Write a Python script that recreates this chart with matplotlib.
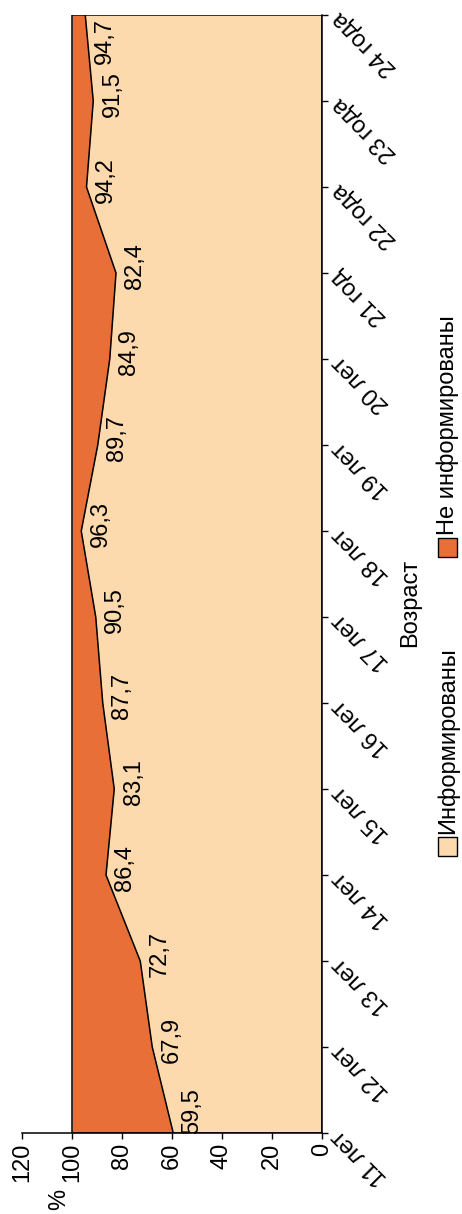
import matplotlib
matplotlib.use("Agg")
import matplotlib.pyplot as plt
from matplotlib.patches import Rectangle

# Данные ----------------------------->>>>>
ages = ["11 лет", "12 лет", "13 лет", "14 лет", "15 лет", "16 лет", "17 лет",
        "18 лет", "19 лет", "20 лет", "21 год", "22 года", "23 года", "24 года"]
informed = [59.5, 67.9, 72.7, 86.4, 83.1, 87.7, 90.5, 96.3, 89.7, 84.9, 82.4, 94.2, 91.5, 94.7]
total = 100
value_ticks = [0, 20, 40, 60, 80, 100, 120]

PEACH = "#FDDAAD"
ORANGE = "#E86F37"
FS = 17

plt.rcParams['font.family'] = ['Liberation Sans', 'DejaVu Sans']

W, H = 462, 1214
fig = plt.figure(figsize=(W / 100, H / 100), dpi=100)
ax = fig.add_axes([22 / W, 81 / H, 300 / W, 1118 / H])

pos = list(range(len(ages)))

# Области (график повернут на 90 градусов)
ax.fill_betweenx(pos, 0, informed, color=PEACH, lw=0)
ax.fill_betweenx(pos, informed, total, color=ORANGE, lw=0)
ax.plot(informed, pos, color="black", lw=1.1)
ax.add_patch(Rectangle((0, 0), total, len(ages) - 1, fill=False, ec="black", lw=1.1))

ax.set_xlim(120, 0)
ax.set_ylim(0, len(ages) - 1)

for s in ["top", "left"]:
    ax.spines[s].set_visible(False)
ax.spines["bottom"].set_linewidth(1.1)
ax.spines["right"].set_linewidth(1.1)

# Ось значений (снизу)
ax.set_xticks(value_ticks)
ax.set_xticklabels([str(v) for v in value_ticks], rotation=90, fontsize=FS)
ax.tick_params(axis="x", direction="out", length=4, width=1, pad=3)

# Ось категорий (справа)
ax.yaxis.tick_right()
ax.set_yticks(pos)
ax.set_yticklabels(ages, fontsize=FS)
ax.tick_params(axis="y", direction="out", length=4, width=1, pad=6)
plt.setp(ax.get_yticklabels(), rotation=135, ha="right", va="center", rotation_mode="anchor")

# Подписи данных
last = len(informed) - 1
for i, v in enumerate(informed):
    dy = 16 if i == 0 else (-19 if i == last else 5)
    ax.annotate(f"{v:.1f}".replace(".", ","), xy=(v, i), xytext=(6, dy),
                textcoords="offset points", rotation=90, ha="center", va="top",
                rotation_mode="anchor", fontsize=FS)

# Подписи осей
fig.text(59 / W, 1 - 1199 / H, "%", rotation=90, ha="center", va="center", fontsize=FS)
fig.text(410 / W, 1 - 603 / H, "Возраст", rotation=90, ha="center", va="center", fontsize=FS)

# Легенда
legend = [("Информированы", PEACH, 856), ("Не информированы", ORANGE, 557)]
for label, col, ybot in legend:
    fig.add_artist(Rectangle((438 / W, 1 - ybot / H), 19 / W, 19 / H,
                             transform=fig.transFigure, fc=col, ec="black", lw=1))
    fig.text(448 / W, 1 - (ybot - 22) / H, label, rotation=90, ha="center", va="bottom",
             fontsize=FS)

fig.savefig("out.png", dpi=100)
